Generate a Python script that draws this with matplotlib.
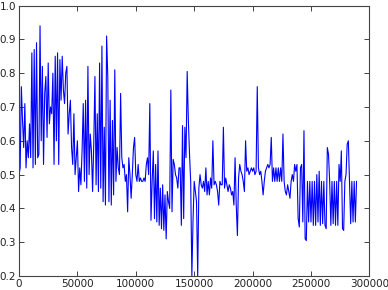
import numpy as np
import matplotlib
matplotlib.use("Agg")
import matplotlib.pyplot as plt

# values, one every 1000 samples
values = [
    0.50, 0.52, 0.76, 0.66, 0.58, 0.71, 0.52, 0.60, 0.55, 0.65,
    0.55, 0.86, 0.52, 0.87, 0.53, 0.89, 0.55, 0.56, 0.94, 0.60,
    0.82, 0.53, 0.74, 0.79, 0.61, 0.83, 0.65, 0.70, 0.68, 0.80,
    0.53, 0.85, 0.60, 0.86, 0.53, 0.84, 0.72, 0.85, 0.75, 0.71,
    0.80, 0.82, 0.62, 0.68, 0.72, 0.58, 0.53, 0.68, 0.50, 0.55,
    0.60, 0.45, 0.52, 0.47, 0.57, 0.71, 0.48, 0.72, 0.46, 0.82,
    0.50, 0.62, 0.57, 0.45, 0.59, 0.79, 0.47, 0.68, 0.45, 0.83,
    0.46, 0.88, 0.42, 0.64, 0.41, 0.91, 0.79, 0.42, 0.72, 0.41,
    0.66, 0.44, 0.81, 0.48, 0.58, 0.52, 0.50, 0.74, 0.55, 0.52,
    0.53, 0.48, 0.50, 0.39, 0.55, 0.50, 0.43, 0.50, 0.58, 0.61,
    0.50, 0.48, 0.53, 0.48, 0.49, 0.48, 0.48, 0.49, 0.48, 0.53,
    0.55, 0.50, 0.71, 0.365, 0.48, 0.57, 0.37, 0.53, 0.36, 0.57,
    0.35, 0.46, 0.34, 0.47, 0.335, 0.44, 0.31, 0.45, 0.42, 0.40,
    0.75, 0.39, 0.545, 0.53, 0.50, 0.49, 0.46, 0.52, 0.52, 0.35,
    0.645, 0.37, 0.64, 0.55, 0.805, 0.66, 0.56, 0.48, 0.20, 0.365,
    0.48, 0.45, 0.42, 0.20, 0.46, 0.50, 0.47, 0.46, 0.48, 0.45,
    0.52, 0.44, 0.48, 0.44, 0.49, 0.46, 0.60, 0.47, 0.48, 0.47,
    0.45, 0.41, 0.48, 0.47, 0.47, 0.64, 0.46, 0.49, 0.47, 0.45,
    0.47, 0.46, 0.44, 0.45, 0.41, 0.55, 0.41, 0.32, 0.49, 0.53,
    0.51, 0.50, 0.48, 0.45, 0.60, 0.51, 0.52, 0.50, 0.51, 0.52,
    0.51, 0.52, 0.50, 0.51, 0.76, 0.52, 0.50, 0.51, 0.48, 0.44,
    0.48, 0.51, 0.52, 0.53, 0.52, 0.53, 0.61, 0.48, 0.52, 0.48,
    0.52, 0.48, 0.52, 0.48, 0.52, 0.48, 0.62, 0.48, 0.45, 0.44,
    0.47, 0.45, 0.43, 0.48, 0.50, 0.48, 0.53, 0.51, 0.53, 0.37,
    0.345, 0.52, 0.53, 0.36, 0.63, 0.31, 0.305, 0.48, 0.36, 0.48,
    0.36, 0.48, 0.35, 0.48, 0.35, 0.50, 0.36, 0.51, 0.35, 0.48,
    0.355, 0.48, 0.35, 0.34, 0.58, 0.56, 0.48, 0.35, 0.48, 0.355,
    0.48, 0.35, 0.48, 0.35, 0.53, 0.48, 0.57, 0.34, 0.335, 0.48,
    0.50, 0.59, 0.60, 0.48, 0.355, 0.48, 0.36, 0.48, 0.36, 0.48,
]
step = 1000
xs = np.arange(len(values)) * step

plt.rcParams['font.size'] = 7.5

fig = plt.figure(figsize=(3.88, 2.90), dpi=100)
ax = fig.add_axes([0.049, 0.048, 0.903, 0.933])
ax.plot(xs, values, color='#0000ff', linewidth=0.8)

ax.set_xlim(0, 300000)
ax.set_ylim(0.2, 1.0)
ax.set_xticks([0, 50000, 100000, 150000, 200000, 250000, 300000])
ax.set_yticks([0.2, 0.3, 0.4, 0.5, 0.6, 0.7, 0.8, 0.9, 1.0])
ax.tick_params(direction='in', top=True, right=True, length=3.5, width=0.6, pad=2, colors='#222222')
for s in ax.spines.values():
    s.set_linewidth(0.8)
    s.set_color('#444444')

fig.savefig('out.png', dpi=100)
